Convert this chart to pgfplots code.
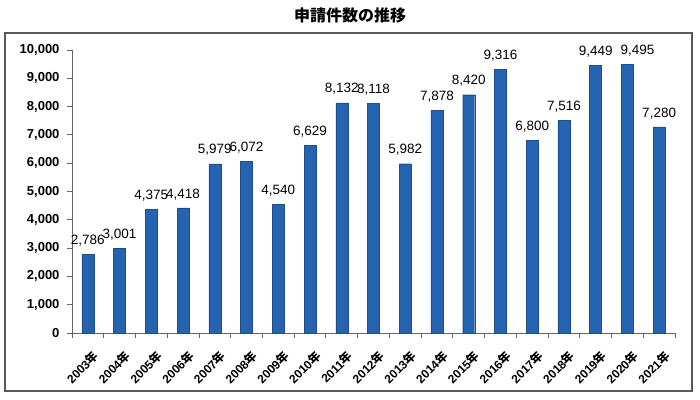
\documentclass[border=0pt]{standalone}
\usepackage{pgfplots}
\pgfplotsset{compat=1.18}
\usepackage{fontspec}
\setmainfont{Liberation Sans}
\newfontfamily\cjk{Noto Sans CJK JP}
\definecolor{barblue}{RGB}{37,99,176}
\begin{document}
\begin{tikzpicture}[x=1pt,y=1pt]
\useasboundingbox (0,0) rectangle (700,399);
\draw[gray!70!black, line width=1.2pt] (5,8) rectangle (692,366);
\node[font=\cjk\bfseries\fontsize{16}{19}\selectfont] at (350,384) {申請件数の推移};
\begin{axis}[
  at={(72pt,66pt)}, anchor=south west,
  scale only axis, width=603pt, height=283pt,
  axis lines*=left,
  axis line style={gray!80!black, line width=0.8pt},
  xmin=-0.5, xmax=18.5, ymin=0, ymax=10000,
  ytick={0,1000,...,10000},
  yticklabel style={font=\bfseries\fontsize{13}{15}\selectfont, xshift=-4pt},
  /pgf/number format/assume math mode=true,
  scaled y ticks=false,
  yticklabel={\pgfmathprintnumber[fixed,1000 sep={,}]{\tick}},
  ytick style={gray!80!black, line width=0.8pt},
  tick align=outside,
  major tick length=5pt,
  xtick={0,...,18},
  xticklabels={2003{\cjk 年},2004{\cjk 年},2005{\cjk 年},2006{\cjk 年},2007{\cjk 年},2008{\cjk 年},2009{\cjk 年},2010{\cjk 年},2011{\cjk 年},2012{\cjk 年},2013{\cjk 年},2014{\cjk 年},2015{\cjk 年},2016{\cjk 年},2017{\cjk 年},2018{\cjk 年},2019{\cjk 年},2020{\cjk 年},2021{\cjk 年}},
  xtick style={draw=none},
  xticklabel style={font=\bfseries\fontsize{12}{14}\selectfont, rotate=45, anchor=north east, inner sep=1pt, yshift=-10pt, xshift=-4pt},
  extra x ticks={-0.5,0.5,...,18.5},
  extra x tick labels={},
  extra x tick style={xtick style={draw=gray!80!black, line width=0.8pt}, major tick length=5pt},
  ybar, bar width=12pt, bar shift=0pt,
  nodes near coords={\pgfmathprintnumber[fixed,1000 sep={,}]{\pgfplotspointmeta}},
  nodes near coords style={font=\fontsize{13.5}{15}\selectfont, inner sep=2pt, yshift=6pt},
  point meta=y,
]
\addplot[fill=barblue, draw=barblue!80!black] coordinates {
(0,2786) (1,3001) (2,4375) (3,4418) (4,5979) (5,6072) (6,4540) (7,6629) (8,8132) (9,8118)
(10,5982) (11,7878) (12,8420) (13,9316) (14,6800) (15,7516) (16,9449) (18,7280)};
\addplot[fill=barblue, draw=barblue!80!black, nodes near coords style={xshift=10pt}] coordinates {(17,9495)};
\end{axis}
\end{tikzpicture}
\end{document}
